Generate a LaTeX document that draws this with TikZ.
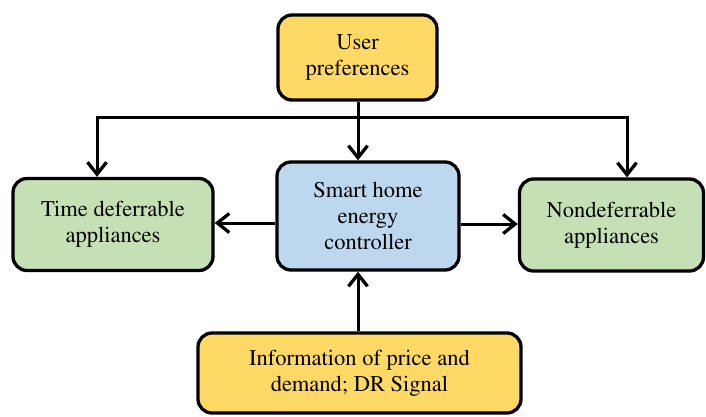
\documentclass[tikz,border=0pt]{standalone}
\usepackage[T1]{fontenc}
\usepackage{mathptmx}
\usetikzlibrary{arrows.meta}
\definecolor{boxyellow}{HTML}{FFD966}
\definecolor{boxblue}{HTML}{BDD7EE}
\definecolor{boxgreen}{HTML}{C5E0B4}
\begin{document}
\begin{tikzpicture}[x=1pt,y=-1pt,
  box/.style={draw=black, line width=3.3pt, rounded corners=14pt, align=center,
    font=\rmfamily\fontsize{22.5}{26}\selectfont, inner sep=0pt, text=black},
  conn/.style={line width=3pt, line join=miter, -{Straight Barb[length=12pt,width=19pt,line width=3.3pt]}},
  plain/.style={line width=3pt}]
\useasboundingbox (0,0) rectangle (706,416);
\fill[white] (0,0) rectangle (706,416);
\node[box, fill=boxyellow, minimum width=159pt, minimum height=85pt] (user) at (357.5,57.5) {User\\preferences};
\node[box, fill=boxblue, minimum width=182pt, minimum height=108pt] (ctrl) at (368,216) {Smart home\\energy\\controller};
\node[box, fill=boxgreen, minimum width=200pt, minimum height=92pt] (tdef) at (113,224.5) {Time deferrable\\appliances};
\node[box, fill=boxgreen, minimum width=184pt, minimum height=92pt] (ndef) at (611.5,225) {Nondeferrable\\appliances};
\node[box, fill=boxyellow, minimum width=323pt, minimum height=80pt] (info) at (359.5,373) {Information of price and\\demand; DR Signal};
\coordinate (jc) at (358,117);
\coordinate (jl) at (97,117);
\coordinate (jr) at (627,117);
\coordinate (ml) at (0,223);
\coordinate (mr) at (0,224);
\draw[plain] (user.south -| jc) -- (jc);
\draw[conn] (jc) -- (jl) -- (jl |- tdef.north);
\draw[conn] (jc) -- (jr) -- (jr |- ndef.north);
\draw[conn] (jc) -- (jc |- ctrl.north);
\draw[conn] (ctrl.west |- ml) -- (tdef.east |- ml);
\draw[conn] (ctrl.east |- mr) -- (ndef.west |- mr);
\draw[conn] (info.north -| jc) -- (jc |- ctrl.south);
\end{tikzpicture}
\end{document}
